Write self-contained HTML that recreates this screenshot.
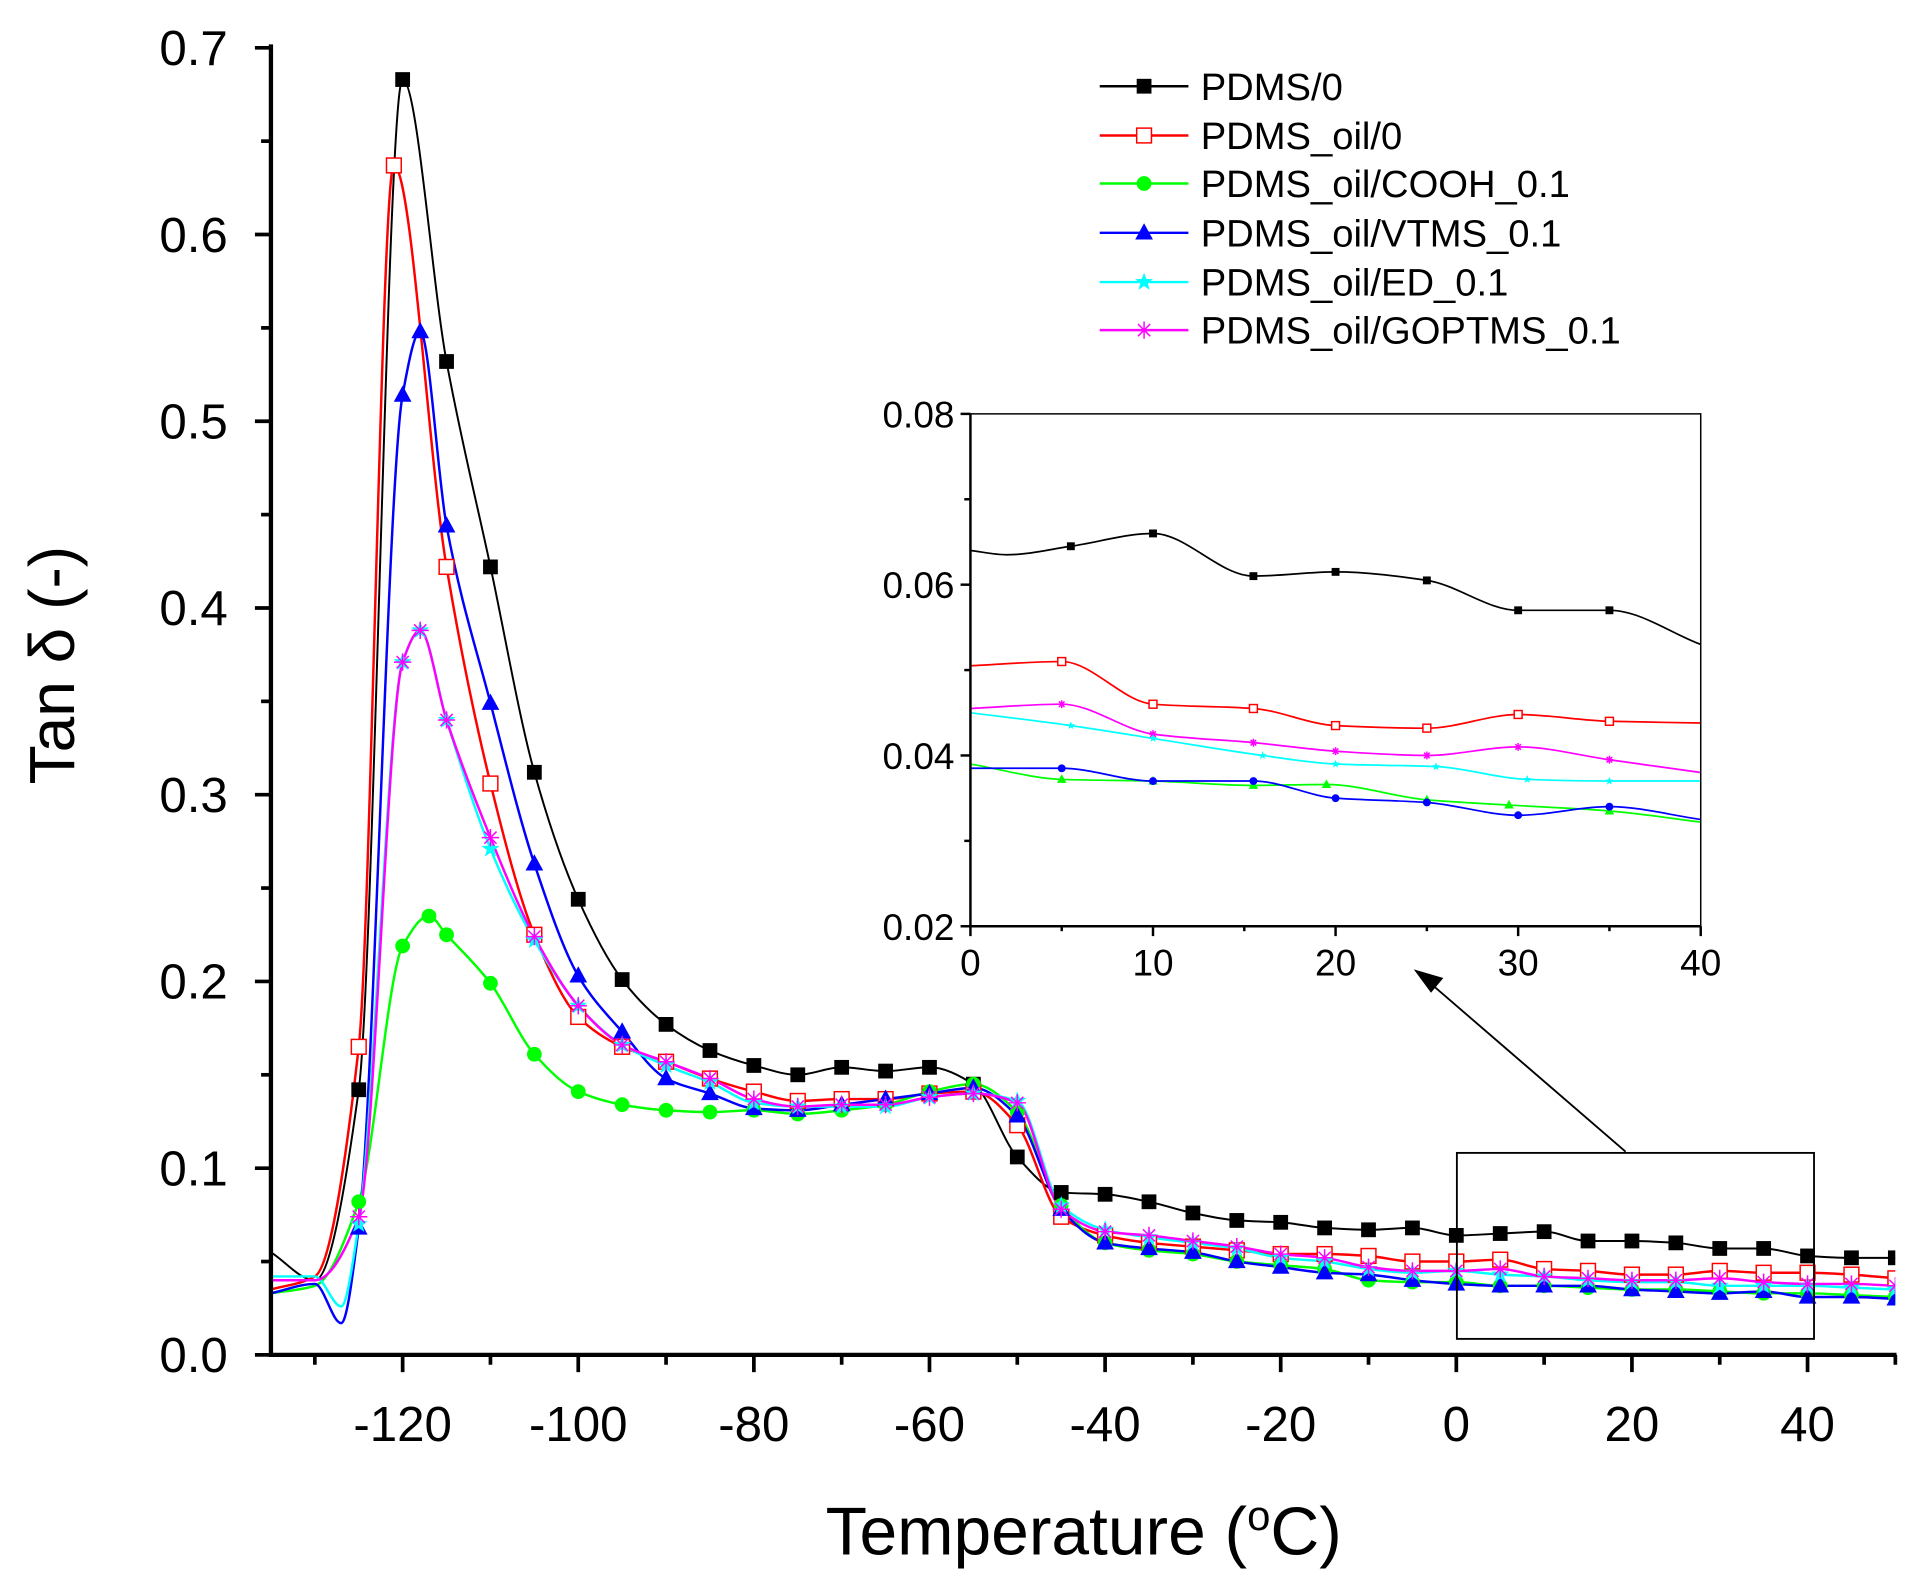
<!DOCTYPE html>
<html><head><meta charset="utf-8"><style>
html,body{margin:0;padding:0;background:#fff;width:1915px;height:1584px;overflow:hidden}
svg{display:block}
text{font-family:"Liberation Sans",Arial,sans-serif;fill:#000}
</style></head><body>
<svg id="s" width="1915" height="1584" viewBox="0 0 1555 1286" preserveAspectRatio="none" xmlns="http://www.w3.org/2000/svg"></svg>
<script>
const S=document.getElementById('s');let h='';
const X=T=>220+(T+135)*7.13, Y=v=>1100-v*1516;
const IX=T=>788+T*14.825, IY=v=>752-(v-0.02)*6933;
function path(p){const n=p.length;let d='M'+p[0][0].toFixed(1)+','+p[0][1].toFixed(1);
const dx=[],s=[];for(let i=0;i<n-1;i++){dx.push(p[i+1][0]-p[i][0]);s.push((p[i+1][1]-p[i][1])/dx[i]);}
const m=[s[0]];for(let i=1;i<n-1;i++){if(s[i-1]*s[i]<=0)m.push(0);else{const w1=2*dx[i]+dx[i-1],w2=dx[i]+2*dx[i-1];m.push((w1+w2)/(w1/s[i-1]+w2/s[i]));}}m.push(s[n-2]);
for(let i=0;i<n-1;i++){const h3=dx[i]/3;d+=` C${(p[i][0]+h3).toFixed(1)},${(p[i][1]+m[i]*h3).toFixed(1)} ${(p[i+1][0]-h3).toFixed(1)},${(p[i+1][1]-m[i+1]*h3).toFixed(1)} ${p[i+1][0].toFixed(1)},${p[i+1][1].toFixed(1)}`;}return d;}
function mk(t,x,y,c,s){s=s||6;
if(t=='sq')return `<rect x="${x-s}" y="${y-s}" width="${2*s}" height="${2*s}" fill="${c}"/>`;
if(t=='osq')return `<rect x="${x-s}" y="${y-s}" width="${2*s}" height="${2*s}" fill="#fff" stroke="${c}" stroke-width="1.2"/>`;
if(t=='ci')return `<circle cx="${x}" cy="${y}" r="${s}" fill="${c}"/>`;
if(t=='tr')return `<polygon points="${x},${y-s*1.3} ${x-s*1.2},${y+s*0.9} ${x+s*1.2},${y+s*0.9}" fill="${c}"/>`;
if(t=='st'){let p=[];for(let i=0;i<10;i++){const r=i%2?s*0.45:s*1.1,a=-Math.PI/2+i*Math.PI/5;p.push((x+r*Math.cos(a)).toFixed(1)+','+(y+r*Math.sin(a)).toFixed(1));}return `<polygon points="${p.join(' ')}" fill="${c}"/>`;}
if(t=='as'){let d='';for(let i=0;i<4;i++){const a=i*Math.PI/4;d+=`M${x-s*Math.cos(a)},${y-s*Math.sin(a)}L${x+s*Math.cos(a)},${y+s*Math.sin(a)}`;}return `<path d="${d}" stroke="${c}" stroke-width="1.2"/>`;}}
const L=[-135,-130,-125,-120,-115,-110,-105,-100,-95,-90,-85,-80,-75,-70,-65,-60,-55,-50,-45,-40,-35,-30,-25,-20,-15,-10,-5,0,5,10,15,20,25,30,35,40,45,50];
const base={
bk:[.055,.04,.142,.683,.532,.422,.312,.244,.201,.177,.163,.155,.150,.154,.152,.154,.145,.106,.087,.086,.082,.076,.072,.071,.068,.067,.068,.064,.065,.066,.061,.061,.060,.057,.057,.053,.052,.052],
rd:[.035,.042,.165,.637,.422,.306,.225,.181,.165,.157,.148,.141,.136,.137,.137,.140,.141,.123,.074,.064,.060,.058,.056,.054,.054,.053,.050,.050,.051,.046,.045,.043,.043,.045,.044,.044,.043,.041],
gr:[.033,.037,.082,.219,.225,.199,.161,.141,.134,.131,.130,.131,.129,.131,.134,.141,.145,.130,.080,.060,.056,.054,.050,.048,.046,.040,.039,.039,.037,.037,.036,.035,.035,.034,.033,.033,.032,.031],
bl:[.033,.038,.068,.514,.444,.349,.263,.203,.173,.148,.140,.132,.131,.134,.137,.140,.143,.128,.078,.060,.057,.055,.050,.047,.044,.043,.040,.038,.037,.037,.037,.035,.034,.033,.034,.031,.031,.030],
cy:[.042,.042,.070,.371,.340,.271,.222,.187,.166,.155,.146,.135,.133,.133,.133,.138,.140,.136,.080,.067,.063,.060,.057,.052,.050,.046,.044,.045,.043,.042,.040,.039,.039,.037,.037,.037,.036,.035],
mg:[.040,.040,.074,.371,.340,.277,.224,.187,.166,.157,.148,.137,.133,.134,.134,.138,.140,.135,.078,.066,.064,.061,.058,.054,.052,.047,.045,.045,.046,.042,.041,.040,.040,.041,.039,.038,.038,.037]};
const extra={bk:[],rd:[[-121,.637]],gr:[[-117,.235]],bl:[[-127,.017],[-118,.548]],cy:[[-127,.026],[-118,.388]],mg:[[-118,.388]]};
const col={bk:'#000',rd:'#f00',gr:'#0f0',bl:'#00f',cy:'#0ff',mg:'#f0f'};
const mt={bk:'sq',rd:'osq',gr:'ci',bl:'tr',cy:'st',mg:'as'};
function series(k){let p=L.map((t,i)=>[t,base[k][i]]);
if(k!='bk')p=p.filter(q=>q[0]!=-120);
extra[k].forEach(e=>{p=p.filter(q=>Math.abs(q[0]-e[0])>1.5);p.push(e);});
if(k=='bl'||k=='cy'||k=='mg'){p.push([-120,k=='bl'?.514:.371]);}
if(k=='gr'){p.push([-120,.219]);}
p.sort((a,b)=>a[0]-b[0]);return p;}
h+=`<g clip-path="url(#c)"><clipPath id="c"><rect x="221" y="30" width="1318" height="1070"/></clipPath>`;
for(const k of ['bk','rd','gr','bl','cy','mg']){const p=series(k);
h+=`<path d="${path(p.map(q=>[X(q[0]),Y(q[1])]))}" fill="none" stroke="${col[k]}" stroke-width="${k=='bk'?1.6:2}"/>`;}
for(const k of ['bk','rd','gr','bl','cy','mg']){const p=series(k);
p.forEach(q=>{if(q[0]>=-125)h+=mk(mt[k],X(q[0]),Y(q[1]),col[k],k=='mg'||k=='cy'?7:6);});}
h+='</g>';
h+=`<path d="M220,36V1100H1540" fill="none" stroke="#000" stroke-width="3.5"/>`;
for(let i=0;i<=7;i++){const y=Y(i/10);h+=`<line x1="207" y1="${y}" x2="220" y2="${y}" stroke="#000" stroke-width="3"/><text x="185" y="${y+14}" font-size="40" text-anchor="end">${(i/10).toFixed(1)}</text>`;
if(i<7){const y2=Y(i/10+.05);h+=`<line x1="212" y1="${y2}" x2="220" y2="${y2}" stroke="#000" stroke-width="3"/>`;}}
for(let t=-130;t<=50;t+=10){const x=X(t),maj=t%20==0;h+=`<line x1="${x}" y1="1100" x2="${x}" y2="${maj?1114:1108}" stroke="#000" stroke-width="3"/>`;
if(maj&&t<=40)h+=`<text x="${x}" y="1170" font-size="40" text-anchor="middle">${t==0?'0':(t<0?'-'+(-t):t)}</text>`;}
h+=`<text x="880" y="1262" font-size="55" text-anchor="middle">Temperature (<tspan dy="-20" font-size="34">o</tspan><tspan dy="20">C)</tspan></text>`;
h+=`<text transform="translate(60,540) rotate(-90)" font-size="52" text-anchor="middle">Tan δ (-)</text>`;
h+=`<rect x="1183" y="936" width="290" height="151" fill="none" stroke="#000" stroke-width="1.5"/>`;
h+=`<line x1="1320" y1="935" x2="1160" y2="797" stroke="#000" stroke-width="1.5"/><polygon points="1148,787 1172,794 1162,806" fill="#000"/>`;
const inset={bk:[[0,.064],[2,.0635],[5.5,.0645],[10,.066],[15.5,.061],[20,.0615],[25,.0605],[30,.057],[35,.057],[40,.053]],
rd:[[0,.0505],[5,.051],[10,.046],[15.5,.0455],[20,.0435],[25,.0432],[30,.0448],[35,.044],[40,.0438]],
mg:[[0,.0455],[5,.046],[10,.0425],[15.5,.0415],[20,.0405],[25,.040],[30,.041],[35,.0395],[40,.038]],
cy:[[0,.045],[5.5,.0435],[10,.042],[16,.040],[20,.039],[25.5,.0387],[30.5,.0372],[35,.037],[40,.037]],
gr:[[0,.039],[5,.0372],[10,.037],[15.5,.0365],[19.5,.0366],[25,.0348],[29.5,.0342],[35,.0335],[40,.0322]],
bl:[[0,.0385],[5,.0385],[10,.037],[15.5,.037],[20,.035],[25,.0345],[30,.033],[35,.034],[40,.0325]]};
const imt={bk:'sq',rd:'osq',gr:'tr',bl:'ci',cy:'st',mg:'as'};
for(const k in inset){const p=inset[k];h+=`<path d="${path(p.map(q=>[IX(q[0]),IY(q[1])]))}" fill="none" stroke="${col[k]}" stroke-width="1.4"/>`;
p.forEach((q,i)=>{if(i>0&&i<p.length-1&&!(k=='bk'&&i==1))h+=mk(imt[k],IX(q[0]),IY(q[1]),col[k],3.2);});}
h+=`<rect x="788" y="336" width="593" height="416" fill="none" stroke="#000" stroke-width="1.2"/><path d="M788,336V752H1381" fill="none" stroke="#000" stroke-width="2"/>`;
for(let i=0;i<=3;i++){const v=.02+i*.02,y=IY(v);h+=`<line x1="780" y1="${y}" x2="788" y2="${y}" stroke="#000" stroke-width="2"/><text x="775" y="${y+11}" font-size="30" text-anchor="end">${v.toFixed(2)}</text>`;
if(i<3){const y2=IY(v+.01);h+=`<line x1="783" y1="${y2}" x2="788" y2="${y2}" stroke="#000" stroke-width="2"/>`;}}
for(let t=0;t<=40;t+=5){const x=IX(t);h+=`<line x1="${x}" y1="752" x2="${x}" y2="${t%10==0?760:756}" stroke="#000" stroke-width="2"/>`;
if(t%10==0)h+=`<text x="${x}" y="792" font-size="30" text-anchor="middle">${t}</text>`;}
const names={bk:'PDMS/0',rd:'PDMS_oil/0',gr:'PDMS_oil/COOH_0.1',bl:'PDMS_oil/VTMS_0.1',cy:'PDMS_oil/ED_0.1',mg:'PDMS_oil/GOPTMS_0.1'};
const ly=[70,110,149,189,229,268];let j=0;
for(const k in names){const y=ly[j++];h+=`<line x1="893" y1="${y}" x2="965" y2="${y}" stroke="${col[k]}" stroke-width="2"/>`+mk(mt[k],929,y,col[k],k=='mg'||k=='cy'?7:6)+`<text x="975" y="${y+11}" font-size="31">${names[k]}</text>`;}
S.innerHTML=h;
</script>
</body></html>
